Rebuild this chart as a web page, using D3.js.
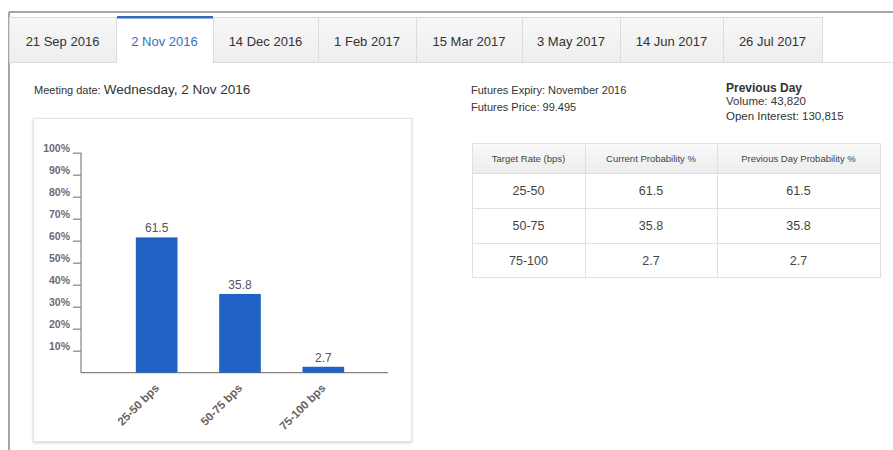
<!DOCTYPE html>
<html>
<head>
<meta charset="utf-8">
<script src="https://cdn.jsdelivr.net/npm/d3@7"></script>
<style>
  body { margin: 0; background: #fff; }
  svg text { font-family: "Liberation Sans", Arial, sans-serif; }
</style>
</head>
<body>
<svg id="page" width="893" height="450"></svg>
<script>
// --- data ---
const meetingTabs = ["21 Sep 2016", "2 Nov 2016", "14 Dec 2016", "1 Feb 2017", "15 Mar 2017", "3 May 2017", "14 Jun 2017", "26 Jul 2017"];
const activeTab = "2 Nov 2016";
const rateBuckets = ["25-50", "50-75", "75-100"];
const currentProb = [61.5, 35.8, 2.7];
const previousProb = [61.5, 35.8, 2.7];
const yTicks = [10, 20, 30, 40, 50, 60, 70, 80, 90, 100];
const tableHeaders = ["Target Rate (bps)", "Current Probability %", "Previous Day Probability %"];

const svg = d3.select("#page");

// --- defs: shadow + header gradient ---
const defs = svg.append("defs");
const shadow = defs.append("filter").attr("id", "shadow").attr("x", "-5%").attr("y", "-5%").attr("width", "110%").attr("height", "110%");
shadow.append("feDropShadow").attr("dx", 0).attr("dy", 1).attr("stdDeviation", 1.5).attr("flood-color", "#000").attr("flood-opacity", 0.18);
const grad = defs.append("linearGradient").attr("id", "hdr").attr("x1", 0).attr("y1", 0).attr("x2", 0).attr("y2", 1);
grad.append("stop").attr("offset", "0%").attr("stop-color", "#fafafa");
grad.append("stop").attr("offset", "100%").attr("stop-color", "#ececec");
const tabGrad = defs.append("linearGradient").attr("id", "tabg").attr("x1", 0).attr("y1", 0).attr("x2", 0).attr("y2", 1);
tabGrad.append("stop").attr("offset", "0%").attr("stop-color", "#f7f7f7");
tabGrad.append("stop").attr("offset", "100%").attr("stop-color", "#eeeeee");

// --- outer frame ---
svg.append("line").attr("x1", 9).attr("x2", 893).attr("y1", 12).attr("y2", 12).attr("stroke", "#8a8a8a").attr("stroke-width", 1.5);
svg.append("line").attr("x1", 9).attr("x2", 9).attr("y1", 12).attr("y2", 450).attr("stroke", "#8a8a8a").attr("stroke-width", 1.5);

// --- tabs ---
const tabEdges = [9, 116, 213, 318, 416, 522, 620, 723, 822];
svg.append("line").attr("x1", 9).attr("x2", 893).attr("y1", 62.5).attr("y2", 62.5).attr("stroke", "#e2e2e2");
const tabs = svg.selectAll(".tab").data(meetingTabs).join("g").attr("class", "tab");
tabs.append("rect")
  .attr("x", (d, i) => tabEdges[i] + 0.5).attr("y", 17.5)
  .attr("width", (d, i) => tabEdges[i + 1] - tabEdges[i]).attr("height", 45)
  .attr("fill", d => d === activeTab ? "#fff" : "url(#tabg)")
  .attr("stroke", "#dcdcdc");
const ai = meetingTabs.indexOf(activeTab);
svg.append("rect").attr("x", tabEdges[ai] + 1).attr("y", 62)
  .attr("width", tabEdges[ai + 1] - tabEdges[ai] - 1).attr("height", 2).attr("fill", "#fff");
svg.append("rect").attr("x", tabEdges[ai] + 1).attr("y", 16)
  .attr("width", tabEdges[ai + 1] - tabEdges[ai] - 1).attr("height", 2.5).attr("fill", "#2d6cc0");
tabs.append("text")
  .attr("x", (d, i) => (tabEdges[i] + tabEdges[i + 1]) / 2).attr("y", 46)
  .attr("text-anchor", "middle").style("font-size", "13px")
  .attr("fill", d => d === activeTab ? "#3472c0" : "#333")
  .text(d => d);

// --- info texts ---
const meet = svg.append("text").attr("x", 34).attr("y", 94).attr("fill", "#333");
meet.append("tspan").style("font-size", "11px").text("Meeting date: ");
meet.append("tspan").style("font-size", "13.5px").text("Wednesday, 2 Nov 2016");

svg.append("text").attr("x", 471).attr("y", 94).style("font-size", "11px").attr("fill", "#333").text("Futures Expiry: November 2016");
svg.append("text").attr("x", 471).attr("y", 111).style("font-size", "11px").attr("fill", "#333").text("Futures Price: 99.495");
svg.append("text").attr("x", 726).attr("y", 92).style("font-size", "12px").style("font-weight", "bold").attr("fill", "#333").text("Previous Day");
svg.append("text").attr("x", 726).attr("y", 105).style("font-size", "11.5px").attr("fill", "#333").text("Volume: 43,820");
svg.append("text").attr("x", 726).attr("y", 120).style("font-size", "11.5px").attr("fill", "#333").text("Open Interest: 130,815");

// --- chart panel ---
svg.append("rect").attr("x", 33.5).attr("y", 118.5).attr("width", 378).attr("height", 323)
  .attr("fill", "#fff").attr("stroke", "#e4e4e4").attr("filter", "url(#shadow)");

const chartLeft = 81, chartRight = 388, chartTop = 152.7, chartBottom = 372.7;
const x = d3.scaleBand().domain(rateBuckets).range([115, 365]).paddingInner(0.5).paddingOuter(0.25);
const y = d3.scaleLinear().domain([0, 100]).range([chartBottom, chartTop]);

const yAxis = svg.append("g").attr("transform", `translate(${chartLeft},0)`)
  .call(d3.axisLeft(y).tickValues(yTicks).tickSize(8).tickFormat(d => d + "%"));
yAxis.select(".domain").attr("d", `M0,${chartTop}V${chartBottom}`).attr("stroke", "#8a7f7f").attr("stroke-width", 1.2);
yAxis.selectAll(".tick line").attr("stroke", "#8a7f7f").attr("stroke-width", 1.2);
yAxis.selectAll(".tick text").attr("x", -11).attr("dy", "-0.15em")
  .style("font-size", "10.5px").style("font-weight", "bold").attr("fill", "#6a6a7a").attr("font-family", null);

svg.append("line").attr("x1", chartLeft).attr("x2", chartRight).attr("y1", chartBottom).attr("y2", chartBottom)
  .attr("stroke", "#8a7f7f").attr("stroke-width", 1.2);

svg.selectAll(".bar").data(currentProb).join("rect").attr("class", "bar")
  .attr("x", (d, i) => x(rateBuckets[i])).attr("width", x.bandwidth())
  .attr("y", d => y(d)).attr("height", d => chartBottom - y(d))
  .attr("fill", "#1f62c4");

svg.selectAll(".bar-label").data(currentProb).join("text").attr("class", "bar-label")
  .attr("x", (d, i) => x(rateBuckets[i]) + x.bandwidth() / 2).attr("y", d => y(d) - 5)
  .attr("text-anchor", "middle").style("font-size", "12px").attr("fill", "#555")
  .text(d => d);

svg.selectAll(".x-label").data(rateBuckets).join("text").attr("class", "x-label")
  .attr("transform", d => `translate(${x(d) + x.bandwidth() / 2 + 3},${chartBottom + 16}) rotate(-45)`)
  .attr("text-anchor", "end").style("font-size", "11.5px").style("font-weight", "bold").attr("fill", "#6a6060")
  .text(d => d + " bps");

// --- probability table ---
const colEdges = [472, 585, 717, 880];
const rowEdges = [143, 173, 208, 243, 277];
const tbl = svg.append("g");
tbl.append("rect").attr("x", colEdges[0] + 0.5).attr("y", rowEdges[0] + 0.5)
  .attr("width", colEdges[3] - colEdges[0]).attr("height", rowEdges[1] - rowEdges[0]).attr("fill", "url(#hdr)");
tbl.append("rect").attr("x", colEdges[0] + 0.5).attr("y", rowEdges[0] + 0.5)
  .attr("width", colEdges[3] - colEdges[0]).attr("height", rowEdges[4] - rowEdges[0])
  .attr("fill", "none").attr("stroke", "#e0e0e0");
rowEdges.slice(1, 4).forEach(r => tbl.append("line").attr("x1", colEdges[0]).attr("x2", colEdges[3])
  .attr("y1", r + 0.5).attr("y2", r + 0.5).attr("stroke", "#e0e0e0"));
colEdges.slice(1, 3).forEach(c => tbl.append("line").attr("x1", c + 0.5).attr("x2", c + 0.5)
  .attr("y1", rowEdges[0]).attr("y2", rowEdges[4]).attr("stroke", "#e0e0e0"));

tableHeaders.forEach((h, i) => tbl.append("text")
  .attr("x", (colEdges[i] + colEdges[i + 1]) / 2).attr("y", (rowEdges[0] + rowEdges[1]) / 2 + 3.5)
  .attr("text-anchor", "middle").style("font-size", "9.5px").attr("fill", "#444").text(h));

const rows = rateBuckets.map((b, i) => [b, currentProb[i], previousProb[i]]);
rows.forEach((row, r) => row.forEach((v, c) => tbl.append("text")
  .attr("x", (colEdges[c] + colEdges[c + 1]) / 2).attr("y", (rowEdges[r + 1] + rowEdges[r + 2]) / 2 + 4.5)
  .attr("text-anchor", "middle").style("font-size", "12.5px").attr("fill", "#444").text(v)));
</script>
</body>
</html>
